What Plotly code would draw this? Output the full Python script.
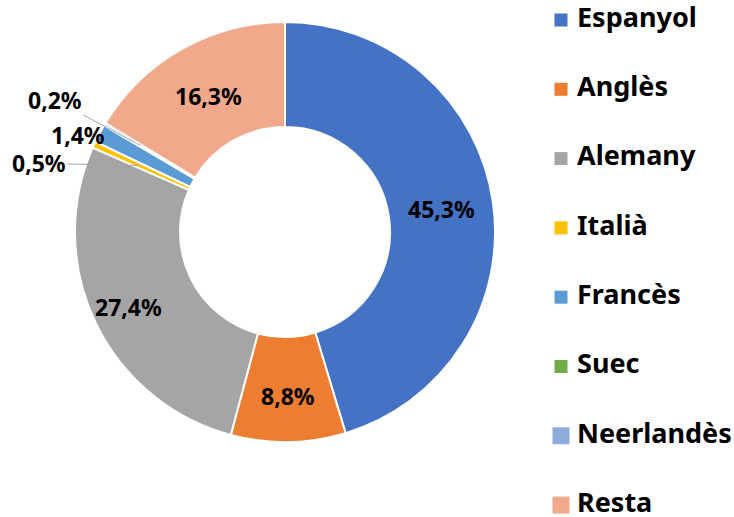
import math
import plotly.graph_objects as go

# ---- data ----
languages = ["Espanyol", "Anglès", "Alemany", "Italià", "Francès", "Suec", "Neerlandès", "Resta"]
shares = [45.3, 8.8, 27.4, 0.5, 1.4, 0.0, 0.2, 16.3]
colors = ["#4472C4", "#ED7D31", "#A5A5A5", "#FFC000", "#5B9BD5", "#70AD47", "#8FAADC", "#F2A88B"]

W, H = 734, 517
CX, CY, R = 285, 232, 210  # pixel layout of the donut
FONT = "Noto Sans"
LABEL_SIZE = 23

def fmt(v):
    return f"{v:.1f}%".replace(".", ",")

fig = go.Figure()
fig.add_trace(go.Pie(
    labels=languages, values=shares, textinfo="none",
    sort=False, direction="clockwise", rotation=0, hole=0.5,
    marker=dict(colors=colors, line=dict(color="white", width=2)),
    showlegend=False, hoverinfo="label+percent",
    domain=dict(x=[(CX - R) / W, (CX + R) / W], y=[(H - CY - R) / H, (H - CY + R) / H]),
))

# legend drawn as a marker column + text column on hidden pixel-scaled axes
LEG_MARK_X, LEG_TEXT_X = 561, 577
LEG_TOP_PX, LEG_STEP_PX = 20, 69.3
y_top = -LEG_TOP_PX / LEG_STEP_PX
y_bot = y_top + H / LEG_STEP_PX
swatch_sizes = [13, 13, 13, 13, 13, 13, 17, 17]
idx = list(range(len(languages)))
fig.add_trace(go.Scatter(
    x=[LEG_MARK_X] * len(idx), y=idx, mode="markers",
    marker=dict(symbol="square", size=swatch_sizes, color=colors, opacity=1, line=dict(width=0)),
    cliponaxis=False, showlegend=False, hoverinfo="skip",
))
fig.add_trace(go.Scatter(
    x=[LEG_TEXT_X] * len(idx), y=idx, mode="text", text=languages, textposition="middle right",
    textfont=dict(family=FONT, size=27, color="black", weight="bold"),
    cliponaxis=False, showlegend=False, hoverinfo="skip",
))

# data labels, positioned from each slice's mid angle
total = sum(shares)
cum = 0.0
mids = []
for v in shares:
    mids.append((cum + v / 2) / total * 2 * math.pi)
    cum += v

def pt(theta, r):
    px = CX + r * math.sin(theta)
    py = CY - r * math.cos(theta)
    return px / W, 1 - py / H

label_cfg = {
    "Espanyol": dict(kind="in", r=158),
    "Anglès": dict(kind="in", r=164),
    "Alemany": dict(kind="in", r=174),
    "Resta": dict(kind="in", r=156),
    "Neerlandès": dict(kind="arrow", r=168, ax=-86, ay=-46),
    "Francès": dict(kind="edge", r=212),
    "Italià": dict(kind="arrow", r=160, ax=-101, ay=-2),
}
lab_font = dict(family=FONT, size=LABEL_SIZE, color="black", weight="bold")
annotations = []
for lab, v, th in zip(languages, shares, mids):
    c = label_cfg.get(lab)
    if c is None:
        continue
    x, y = pt(th, c["r"])
    if c["kind"] == "in":
        annotations.append(dict(x=x, y=y, xref="paper", yref="paper", text=fmt(v),
                                showarrow=False, xanchor="center", yanchor="middle", font=lab_font))
    elif c["kind"] == "arrow":
        annotations.append(dict(x=x, y=y, xref="paper", yref="paper", text=fmt(v), showarrow=True,
                                arrowhead=0, arrowwidth=1, arrowcolor="#A6A6A6",
                                ax=c["ax"], ay=c["ay"], font=lab_font))
    else:
        annotations.append(dict(x=x, y=y, xref="paper", yref="paper", text=fmt(v), showarrow=False,
                                xanchor="right", yanchor="middle", xshift=9, yshift=-3, font=lab_font))

fig.update_layout(
    width=W, height=H, margin=dict(l=0, r=0, t=0, b=0),
    paper_bgcolor="white", plot_bgcolor="white",
    xaxis=dict(visible=False, domain=[0, 1], range=[0, W], fixedrange=True),
    yaxis=dict(visible=False, domain=[0, 1], range=[y_bot, y_top], fixedrange=True),
    annotations=annotations,
    showlegend=False,
    hovermode=False,
)

fig.write_html(
    "out.html",
    config={"displayModeBar": False, "staticPlot": True},
    post_script="document.body.style.margin='0';document.body.style.overflow='hidden';",
)
